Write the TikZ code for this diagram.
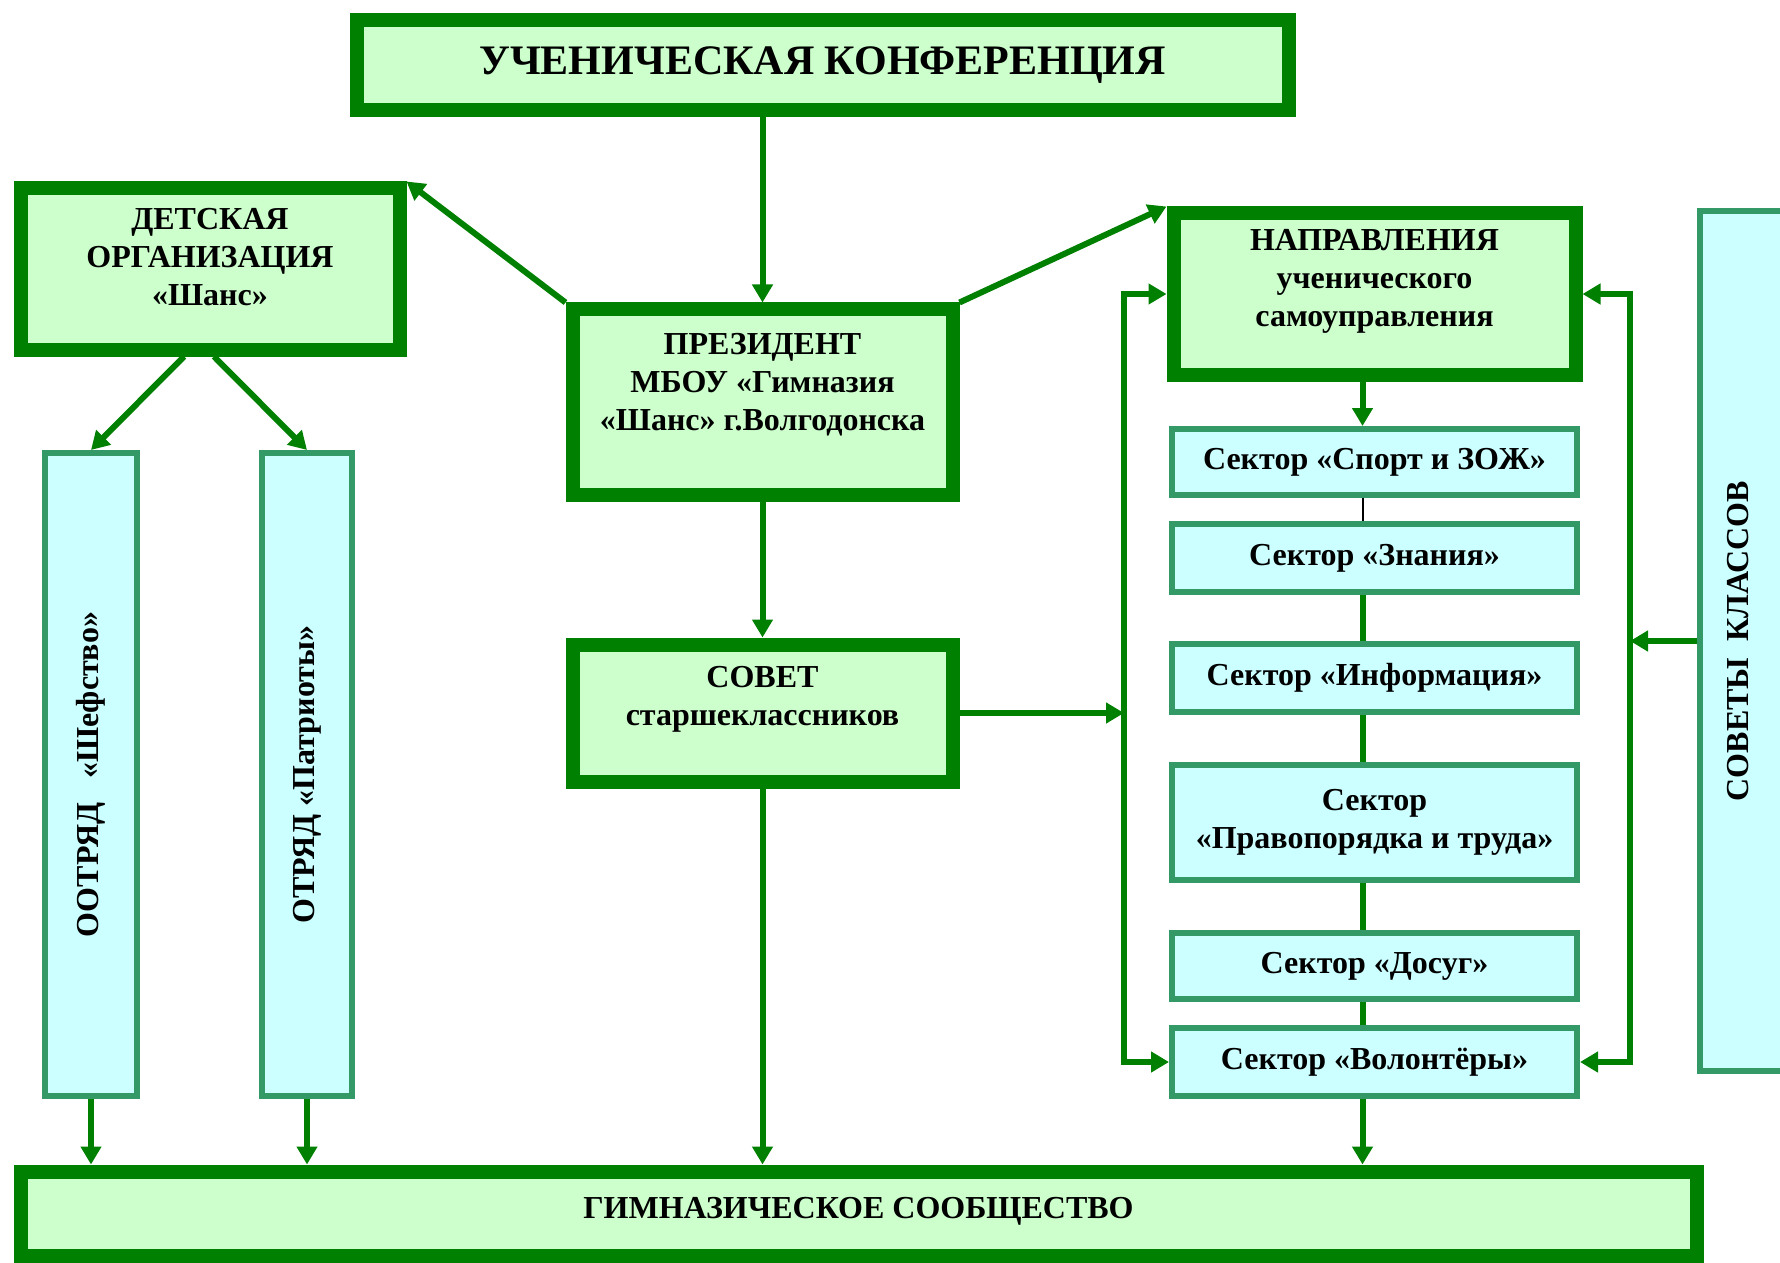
\documentclass[tikz,border=0pt]{standalone}
\usepackage{fontspec}
\setmainfont{Liberation Serif}
\usetikzlibrary{arrows.meta}

\definecolor{dkgreen}{HTML}{008000}
\definecolor{palegreen}{HTML}{CCFFCC}
\definecolor{palecyan}{HTML}{CCFFFF}
\definecolor{seagreen}{HTML}{339966}

\newcommand{\lift}[1]{\rule[-#1]{0pt}{0pt}}

\tikzset{
  bigbox/.style={draw=dkgreen, fill=palegreen, line width=7pt, align=center, inner sep=0pt,
    font=\bfseries\fontsize{16}{19}\selectfont},
  secbox/.style={draw=seagreen, fill=palecyan, line width=3pt, align=center, inner sep=0pt,
    minimum width=202.5pt, font=\bfseries\fontsize{16}{19}\selectfont},
  link/.style={dkgreen, line width=3pt},
  arr/.style={link, -{Triangle[length=9pt,width=10pt]}},
  twoarr/.style={link, {Triangle[length=9pt,width=10pt]}-{Triangle[length=9pt,width=10pt]}}
}

\begin{document}
\begin{tikzpicture}[x=0.5pt, y=-0.5pt]
\useasboundingbox (0,0) rectangle (1780,1262);

% main boxes
\node[bigbox, minimum width=466pt, minimum height=45pt, font=\bfseries\fontsize{21}{25}\selectfont]
  (conf) at (822.5,65.5) {УЧЕНИЧЕСКАЯ КОНФЕРЕНЦИЯ};
\node[bigbox, minimum width=189.5pt, minimum height=80.5pt] (det) at (210,269)
  {ДЕТСКАЯ\\ОРГАНИЗАЦИЯ\\«Шанс»\lift{12pt}};
\node[bigbox, minimum width=190pt, minimum height=92.5pt] (pres) at (762.5,402)
  {ПРЕЗИДЕНТ\\МБОУ «Гимназия\\«Шанс» г.Волгодонска\lift{20pt}};
\node[bigbox, minimum width=190pt, minimum height=68.5pt] (sovet) at (762.5,713)
  {СОВЕТ\\старшеклассников\lift{17pt}};
\node[bigbox, minimum width=201pt, minimum height=80.5pt] (napr) at (1374.5,294)
  {НАПРАВЛЕНИЯ\\ученического\\самоуправления\lift{16pt}};
\node[bigbox, minimum width=838pt, minimum height=42pt] (bottom) at (858.5,1213.5)
  {ГИМНАЗИЧЕСКОЕ СООБЩЕСТВО\lift{6pt}};

% sectors
\node[secbox, minimum height=33pt] (sport) at (1374.5,462) {Сектор «Спорт и ЗОЖ»};
\node[secbox, minimum height=34pt] (znan) at (1374.5,558) {Сектор «Знания»};
\node[secbox, minimum height=34pt] (info) at (1374.5,678) {Сектор «Информация»};
\node[secbox, minimum height=57.5pt] (prav) at (1374.5,822.5) {Сектор\\«Правопорядка и труда»};
\node[secbox, minimum height=33pt] (dos) at (1374.5,966) {Сектор «Досуг»};
\node[secbox, minimum height=34pt] (vol) at (1374.5,1062) {Сектор «Волонтёры»};

% vertical boxes
\node[secbox, minimum width=46pt, minimum height=321.5pt] (shef) at (91,774.5)
  {\rotatebox{90}{ООТРЯД~~~«Шефство»}};
\node[secbox, minimum width=45pt, minimum height=321.5pt] (patr) at (307,774.5)
  {\rotatebox{90}{ОТРЯД «Патриоты»}};
\node[secbox, minimum width=48.5pt, minimum height=430pt] (sov) at (1748.5,641)
  {\rotatebox{90}{СОВЕТЫ~~КЛАССОВ\lift{10.5pt}}};

\coordinate (lb) at (1124,714);
\coordinate (rb) at (1630,643);

% connectors
\draw[arr] (conf.south -| pres.north) -- (pres);
\draw[arr] (pres) -- (sovet);
\draw[arr] (sovet) -- (sovet |- bottom.north);
\draw[arr] (pres.north west) -- (det.north east);
\draw[arr] (pres.north east) -- (napr.north west);
\draw[arr] ([xshift=-13pt]det.south) -- (shef.north);
\draw[arr] ([xshift=2pt]det.south) -- (patr.north);
\draw[arr] (shef) -- (shef |- bottom.north);
\draw[arr] (patr) -- (patr |- bottom.north);

\draw[arr] (sovet) -- (sovet -| lb);
\draw[twoarr] (napr.west) -| (lb) |- (vol.west);
\draw[twoarr] (napr.east) -| (rb) |- (vol.east);
\draw[arr] (sov) -- (sov -| rb);

\draw[arr] ([xshift=-6pt]napr.south) -- ([xshift=-6pt]sport.north);
\draw[line width=1pt] ([xshift=-6pt]sport.south) -- ([xshift=-6pt]znan.north);
\foreach \a/\b in {znan/info, info/prav, prav/dos, dos/vol}
  \draw[link] ([xshift=-6pt]\a.south) -- ([xshift=-6pt]\b.north);
\draw[arr] ([xshift=-6pt]vol.south) -- ([xshift=-6pt]vol.south |- bottom.north);
\end{tikzpicture}
\end{document}
